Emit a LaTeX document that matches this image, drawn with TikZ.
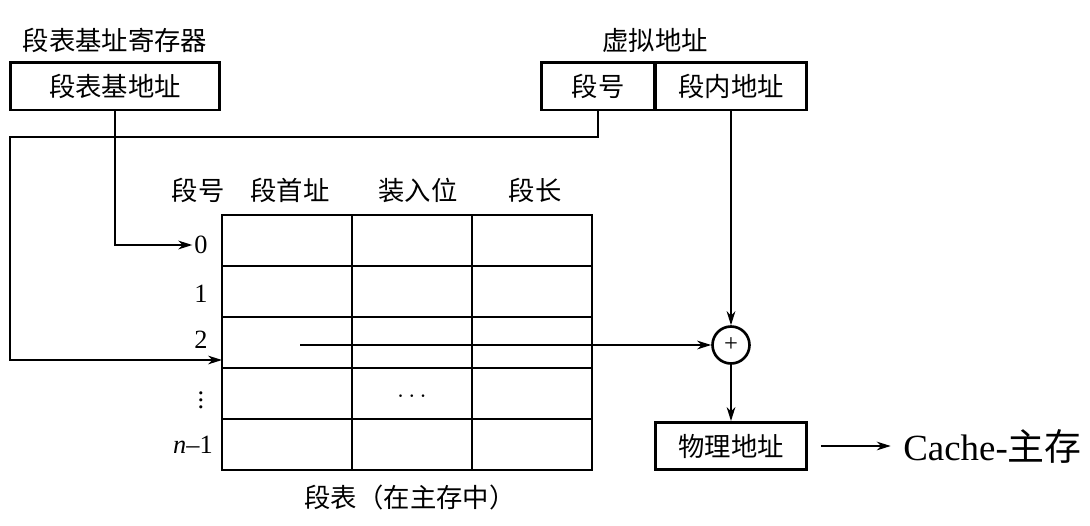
\documentclass[tikz,border=0pt]{standalone}
\usepackage{fontspec}
\setmainfont{Liberation Serif}
\newfontfamily\cjk{Noto Sans CJK SC}
\usetikzlibrary{calc,arrows.meta}
\tikzset{
  regbox/.style={draw,line width=1.7pt,minimum height=0.96cm,inner sep=0pt,font=\cjk\fontsize{15}{15}\selectfont},
  lbl/.style={font=\cjk\fontsize{15}{15}\selectfont,inner sep=0pt},
  num/.style={font=\fontsize{15}{15}\selectfont,inner sep=1pt},
  wire/.style={line width=0.7pt},
  grid/.style={line width=1.4pt},
}
\begin{document}
\begin{tikzpicture}[>={Stealth[length=8pt,width=5pt,inset=2.5pt]},x=0.02cm,y=-0.02cm]
  \useasboundingbox (0,0) rectangle (1090,525);
  % registers
  \node[lbl] (regtitle) at (115,40) {段表基址寄存器};
  \node[regbox,minimum width=4.2cm] (base) at (115,86) {段表基地址};
  \node[lbl] (vtitle) at (655,40) {虚拟地址};
  \node[regbox,minimum width=2.28cm] (seg) at (598,86) {段号};
  \node[regbox,minimum width=3.04cm] (off) at (731,86) {段内地址};
  % segment table
  \node[lbl] (h0) at (198,190) {段号};
  \node[lbl] (h1) at (290,190) {段首址};
  \node[lbl] (h2) at (418,190) {装入位};
  \node[lbl] (h3) at (535,190) {段长};
  \node[grid,draw,minimum width=7.4cm,minimum height=5.1cm,inner sep=0pt] (tab) at (407,342.5) {};
  \foreach \y in {266,317,368,419}
    \draw[grid] (222,\y) -- (592,\y);
  \foreach \x in {352,472}
    \draw[grid] (\x,215) -- (\x,470);
  \node[num] (r0) at (201,245) {0};
  \node[num] (r1) at (201,294) {1};
  \node[num] (r2) at (201,340) {2};
  \node[num,inner sep=0pt] (r3) at (201,395) {$\vdots$};
  \node[num] (r4) at (193,445) {\textit{n}–1};
  \node[num] (dots) at (412,397) {$\cdots$};
  \node[lbl] (tabname) at (410,497) {段表（在主存中）};
  \coordinate (start) at (300,345);
  \coordinate (in2) at (222,360);
  % adder and result
  \node[circle,draw,line width=1.5pt,minimum size=0.74cm,inner sep=0pt] (add) at (731,345) {\fontsize{14}{14}\selectfont +};
  \node[regbox,minimum width=3.04cm,minimum height=0.94cm] (phys) at (731,446) {物理地址};
  \node[anchor=west,inner sep=0pt,font=\fontsize{21}{21}\selectfont] (cache) at (903,446) {Cache-{\cjk 主存}};
  % connectors
  \draw[wire,->] (base.south) |- (r0.west);
  \draw[wire,->] (seg.south) |- (10,137) |- (in2);
  \draw[wire,->] (start) -- (add.west);
  \draw[wire,->] (off.south) -- (add.north);
  \draw[wire,->] (add.south) -- (phys.north);
  \draw[wire,->,shorten <=7pt,shorten >=7pt] (phys.east) -- (cache.west);
\end{tikzpicture}
\end{document}
